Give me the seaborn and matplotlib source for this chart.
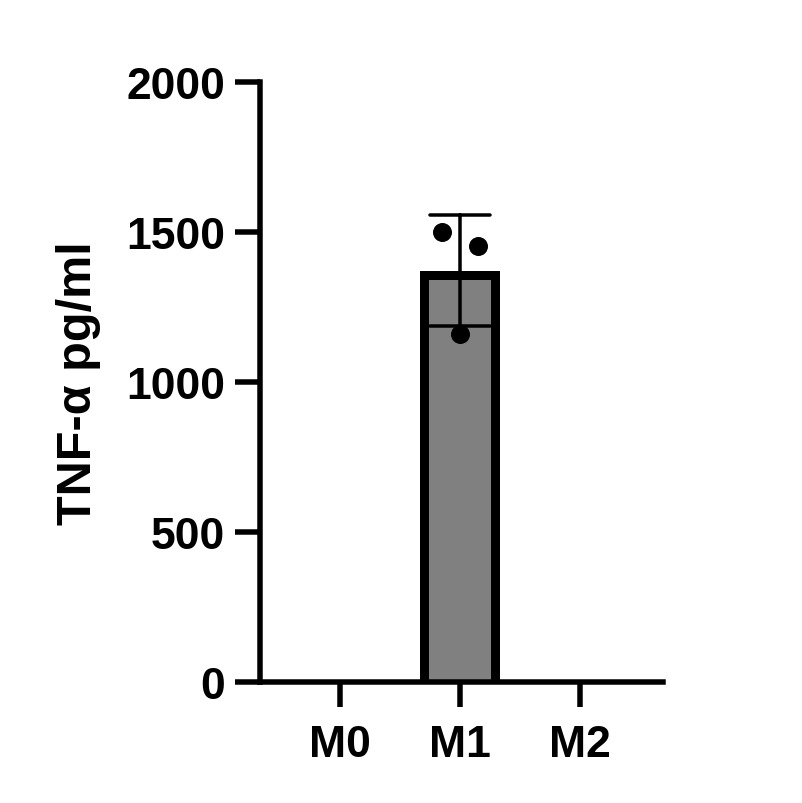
import pandas as pd
import matplotlib
matplotlib.use("Agg")
import matplotlib.pyplot as plt
from matplotlib.patches import Rectangle
import seaborn as sns

groups = ["M0", "M1", "M2"]
m1_values = [1500, 1455, 1160]
y_ticks = [0, 500, 1000, 1500, 2000]

# horizontal spread of the replicate dots inside a bar (layout only)
point_dodge = [-0.15, 0.15, 0.0]

df = pd.DataFrame({"group": ["M1"] * len(m1_values), "value": m1_values})
df["xpos"] = [groups.index(g) + d for g, d in zip(df["group"], point_dodge)]

sns.set_style("ticks")
plt.rcParams["font.family"] = ["Liberation Sans", "DejaVu Sans"]
plt.rcParams["font.weight"] = "bold"
plt.rcParams["text.color"] = "black"
plt.rcParams["axes.labelcolor"] = "black"
plt.rcParams["xtick.color"] = "black"
plt.rcParams["ytick.color"] = "black"
plt.rcParams["axes.edgecolor"] = "black"

px = 72 / 100  # points per pixel at dpi 100

fig = plt.figure(figsize=(8.03, 8.04), dpi=100)
ax = fig.add_axes([260 / 803, (804 - 683) / 804, (663 - 260) / 803, 600 / 804])

sns.barplot(data=df, x="group", y="value", order=groups, ax=ax,
            color="#808080", edgecolor="black", linewidth=18 * px, width=0.667,
            errorbar="sd", capsize=0.5, saturation=1,
            err_kws={"color": "black", "linewidth": 3.5 * px, "zorder": 3},
            zorder=2)
# Prism-style border: drawn inside the bar, no border along the baseline
for bar in ax.patches:
    x0, y0 = bar.get_x(), bar.get_y()
    w, h = bar.get_width(), bar.get_height()
    bar.set_y(y0 - 200)
    bar.set_height(h + 200)
    bar.set_clip_path(Rectangle((x0, y0), w, h, transform=ax.transData))

sns.scatterplot(data=df, x="xpos", y="value", ax=ax, color="black",
                s=(19 * px) ** 2, linewidth=0, zorder=4, legend=False)

ax.set_xlim(-80 / 120, 2 + 83 / 120)
ax.set_ylim(0, 2000)
ax.set_xticks(range(len(groups)))
ax.set_xticklabels(groups)
ax.set_yticks(y_ticks)
ax.set_xlabel("")
ax.set_ylabel("TNF-α pg/ml", fontsize=35, fontweight="bold", labelpad=18)

sns.despine(ax=ax)
for side in ["left", "bottom"]:
    ax.spines[side].set_linewidth(5.5 * px)
    ax.spines[side].set_capstyle("projecting")
    ax.spines[side].set_zorder(5)
ax.tick_params(axis="both", length=25 * px, width=5.5 * px, labelsize=32)
ax.tick_params(axis="y", pad=7)
ax.tick_params(axis="x", pad=12)
for lab in ax.get_xticklabels() + ax.get_yticklabels():
    lab.set_fontweight("bold")

fig.savefig("out.png", dpi=100)
